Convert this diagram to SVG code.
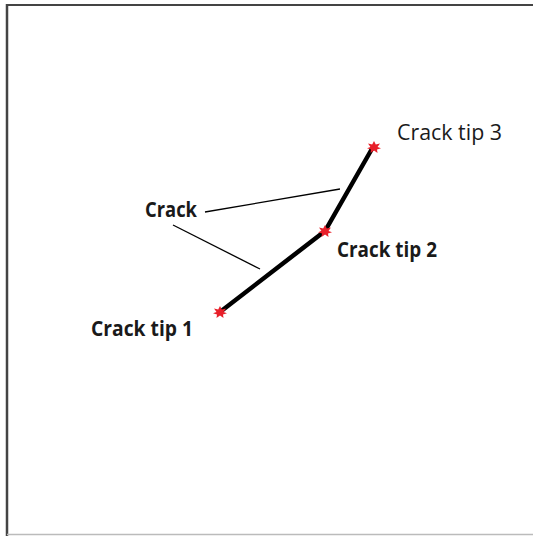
<svg xmlns="http://www.w3.org/2000/svg" width="533" height="536" viewBox="0 0 533 536">
<defs>
<style>
.lbl{font-family:"Open Sans","Noto Sans","Liberation Sans",sans-serif;font-size:21px;fill:#1a1a1a}
.b{font-weight:bold}
.crack{stroke:#000;stroke-width:4.5;stroke-linecap:round;fill:none}
.lead{stroke:#000;stroke-width:1.3;fill:none}
</style>
<polygon id="splat" points="0,-6 1.8,-2.5 6,-3.5 3.5,0 7,1.2 3,2.5 3.5,6 0,3.5 -3.5,6 -3,2.5 -7,1.2 -3.5,0 -6,-3.5 -1.8,-2.5" fill="#e8202a"/>
</defs>
<rect width="533" height="536" fill="#fff"/>
<line x1="7" y1="5" x2="533" y2="5" stroke="#444" stroke-width="2"/>
<line x1="7" y1="4" x2="7" y2="536" stroke="#444" stroke-width="2.5"/>
<line x1="7" y1="534.5" x2="533" y2="534.5" stroke="#bbb" stroke-width="1.5"/>
<g id="connectors">
<polyline class="crack" points="220,312 325,231 373,147"/>
<line class="lead" x1="205" y1="212" x2="340" y2="189"/>
<line class="lead" x1="173" y1="225" x2="260" y2="269"/>
</g>
<g id="tip1"><use href="#splat" x="220" y="312"/><text class="lbl b" x="91" y="336" textLength="102" lengthAdjust="spacingAndGlyphs">Crack tip 1</text></g>
<g id="tip2"><use href="#splat" x="325" y="231"/><text class="lbl b" x="337" y="257" textLength="100" lengthAdjust="spacingAndGlyphs">Crack tip 2</text></g>
<g id="tip3"><use href="#splat" x="374" y="147"/><text class="lbl" x="397" y="140" textLength="105" lengthAdjust="spacingAndGlyphs">Crack tip 3</text></g>
<g id="crack"><text class="lbl b" x="145" y="217" textLength="52" lengthAdjust="spacingAndGlyphs">Crack</text></g>
</svg>
